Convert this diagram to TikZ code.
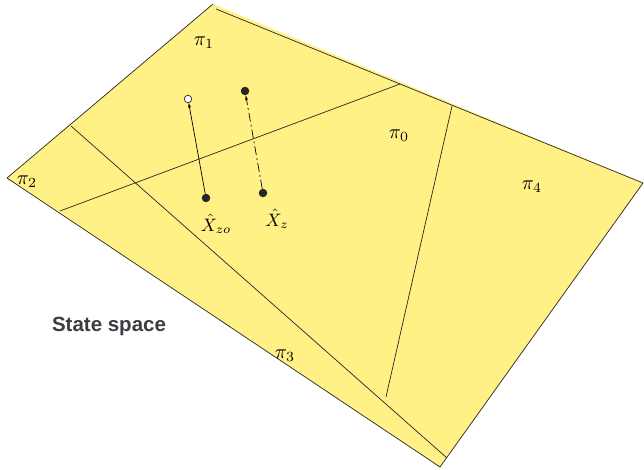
\documentclass[tikz,border=0pt]{standalone}
\usepackage{graphicx}
\usepackage{fontspec}
\usetikzlibrary{arrows.meta}
\definecolor{planefill}{RGB}{255,241,134}
\definecolor{labelgray}{RGB}{60,60,66}
\newfontfamily\labelsans{Liberation Sans}
\newcommand{\pilab}[1]{\scalebox{2.0}{$#1$}}
\newcommand{\xlab}[1]{\scalebox{1.8}{$#1$}}
\begin{document}
\begin{tikzpicture}[x=1pt,y=-1pt,
  edge/.style={draw=black!85,line width=0.7pt},
  lab/.style={inner sep=0pt},
  dotfull/.style={circle,fill=black!85,inner sep=0pt,minimum size=8.5pt},
  dotopen/.style={circle,draw=black!85,fill=white,line width=0.7pt,inner sep=0pt,minimum size=7.5pt},
  arr/.style={line width=0.7pt,-{Stealth[length=5pt,width=3pt]}}]
\useasboundingbox (0,0) rectangle (644,470);
% plane corners
\coordinate (T) at (213,4);
\coordinate (R) at (643,183);
\coordinate (B) at (440,467);
\coordinate (L) at (7,178);
\fill[planefill] (T) -- (R) -- (B) -- (L) -- cycle;
\draw[edge] (L) -- (T);
\draw[edge] (216,9) -- (R) -- (B) -- (L);
% inner lines
\coordinate (d1) at (71,126);
\coordinate (d2) at (447,458);
\draw[edge] (d1) -- (d2);
\coordinate (e1) at (60,211);
\coordinate (e2) at (400,84);
\draw[edge] (e1) -- (e2);
\coordinate (f1) at (452,106);
\coordinate (f2) at (386,397);
\draw[edge] (f1) -- (f2);
% labels
\node[lab] (p1) at (204,43) {\pilab{\pi_1}};
\node[lab] (p0) at (399,136) {\pilab{\pi_0}};
\node[lab] (p2) at (27,182) {\pilab{\pi_2}};
\node[lab] (p4) at (532,187) {\pilab{\pi_4}};
\node[lab] (p3) at (285,356) {\pilab{\pi_3}};
\node[lab] (xzo) at (216,224) {\xlab{\hat{X}_{zo}}};
\node[lab] (xz) at (277,219) {\xlab{\hat{X}_{z}}};
\node[font=\fontsize{20.5}{22}\labelsans\bfseries,text=labelgray,inner sep=0pt] (ss) at (109,326) {State space};
% points
\node[dotopen] (o1) at (188,99) {};
\node[dotfull] (a1) at (245,91) {};
\node[dotfull] (s1) at (206,198) {};
\node[dotfull] (s2) at (263,193) {};
\draw[arr] (s1) -- (o1);
\draw[arr,dash pattern=on 9pt off 3pt on 2pt off 3pt] (s2) -- (a1);
\end{tikzpicture}
\end{document}
